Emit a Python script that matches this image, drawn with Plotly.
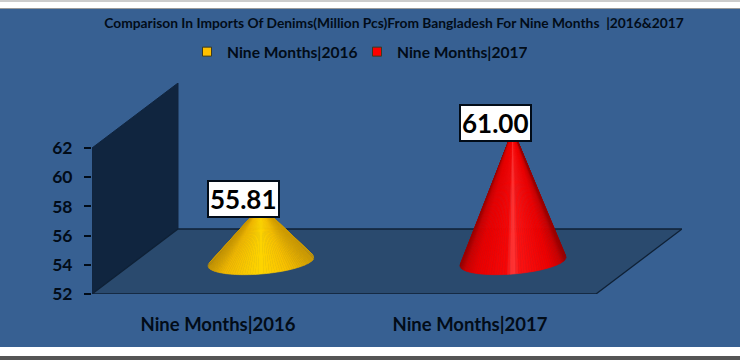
import numpy as np
import plotly.graph_objects as go

# ---- data ----
categories = ["Nine Months|2016", "Nine Months|2017"]
values = [55.81, 61.00]
series_names = ["Nine Months|2016", "Nine Months|2017"]
y_ticks = [52, 54, 56, 58, 60, 62]
title_text = "Comparison In Imports Of Denims(Million Pcs)From Bangladesh For Nine Months  |2016&2017"

# ---- style / layout ----
W, H = 740, 360
L, R, T, B = 92, 682, 83, 294          # plot box in pixels
PX_X = 252.0                           # pixels per category
PX_Y = 14.6                            # pixels per value unit
DEPTH_X = 86 / PX_X
DEPTH_Y = 65 / PX_Y
BASE = 52
R_X, R_SKEW, R_Y = 53 / PX_X, 4.25 / PX_Y, 12.5 / PX_Y
BG, FLOOR, WALL, INK = "#376092", "#2a4a6e", "#10253f", "#020c18"
FONT = "Lato"

YELLOW = [(-1, "#c89600"), (-.7, "#f2b800"), (0, "#ffd600"), (.5, "#f8c000"), (1, "#d09c00")]
RED = [(-1, "#980000"), (-.9, "#cc0000"), (-.7, "#e80000"), (-.12, "#f60808"), (0, "#ff3c3c"),
       (.12, "#fa1414"), (.7, "#ee0000"), (.9, "#cc0000"), (1, "#980000")]
STOPS = [YELLOW, RED]
LEGEND_COL = ["#ffc000", "#ff0000"]


def shade(stops, u):
    us = [s[0] for s in stops]
    rgb = [[int(s[1][i:i + 2], 16) for s in stops] for i in (1, 3, 5)]
    return "rgb(%d,%d,%d)" % tuple(np.interp(u, us, c) for c in rgb)


def px(x):
    return (x - L) / (R - L)


def py(y):
    return (B - y) / (B - T)


fig = go.Figure()

# wall and floor
fig.add_trace(go.Scatter(x=[0, DEPTH_X, DEPTH_X, 0, 0],
                         y=[BASE, BASE + DEPTH_Y, y_ticks[-1] + DEPTH_Y, y_ticks[-1], BASE],
                         fill="toself", fillcolor=WALL, mode="lines",
                         line=dict(color=WALL, width=1), hoverinfo="skip", showlegend=False))
n = len(categories)
fig.add_trace(go.Scatter(x=[0, n, n + DEPTH_X, DEPTH_X, 0],
                         y=[BASE, BASE, BASE + DEPTH_Y, BASE + DEPTH_Y, BASE],
                         fill="toself", fillcolor=FLOOR, mode="lines",
                         line=dict(color="#0f2136", width=1.3), hoverinfo="skip", showlegend=False))

# cones
annotations = []
for i, v in enumerate(values):
    cx = i + 0.5 + DEPTH_X / 2
    cy = BASE + DEPTH_Y / 2
    ax, ay = cx, v + DEPTH_Y / 2
    edges = np.linspace(0, np.pi, 61)
    ext_r = np.linspace(-0.4, 0, 5)
    ext_l = np.linspace(np.pi, np.pi + 0.4, 5)
    fans = list(zip(ext_r[:-1], ext_r[1:])) + list(zip(ext_l[:-1], ext_l[1:]))
    fans += list(zip(edges[:-1][::-1], edges[1:][::-1]))
    for t0, t1 in fans:
        ts = np.array([t0, t1])
        xs = cx + R_X * np.cos(ts)
        ys = cy + R_SKEW * np.cos(ts) - R_Y * np.sin(ts)
        col = shade(STOPS[i], float(np.cos((t0 + t1) / 2)))
        fig.add_trace(go.Scatter(x=[ax, xs[0], xs[1], ax], y=[ay, ys[0], ys[1], ay],
                                 fill="toself", fillcolor=col, mode="lines",
                                 line=dict(color=col, width=0.6),
                                 hoverinfo="skip", showlegend=False))
    annotations.append(dict(x=ax, y=ay, xref="x", yref="y", text=f"{v:.2f}",
                            showarrow=False, xanchor="center", yanchor="bottom",
                            xshift=-18, yshift=-12, bgcolor="white", bordercolor=INK,
                            borderwidth=2, borderpad=1,
                            font=dict(family=FONT, size=26, color="#000000", weight="bold")))

# legend entries
for name, col in zip(series_names, LEGEND_COL):
    fig.add_trace(go.Scatter(x=[None], y=[None], name=name, mode="markers",
                             marker=dict(symbol="square", size=9, color=col,
                                         line=dict(color="#3a3a20", width=1))))

shapes = [
    dict(type="rect", xref="paper", yref="paper", layer="below", line_width=0, fillcolor=BG,
         x0=px(0), x1=px(W), y0=py(347), y1=py(9)),
    dict(type="rect", xref="paper", yref="paper", layer="below", line_width=0, fillcolor="#9a9a9a",
         x0=px(0), x1=px(W), y0=py(9), y1=py(8)),
    dict(type="rect", xref="paper", yref="paper", layer="below", line_width=0, fillcolor="#cccccc",
         x0=px(0), x1=px(W), y0=py(2), y1=py(0)),
    dict(type="rect", xref="paper", yref="paper", layer="below", line_width=0, fillcolor="#555555",
         x0=px(0), x1=px(W), y0=py(360), y1=py(356)),
]

fig.update_layout(
    width=W, height=H, autosize=False,
    margin=dict(l=L, r=W - R, t=T, b=H - B, pad=0),
    paper_bgcolor="white", plot_bgcolor="rgba(0,0,0,0)",
    title=dict(text=title_text, x=394 / W, xanchor="center", y=1 - 23 / H, yanchor="middle",
               font=dict(family=FONT, size=13.8, color=INK, weight="bold")),
    showlegend=True,
    legend=dict(orientation="h", x=px(187), y=py(52), xanchor="left", yanchor="middle",
                bgcolor="rgba(0,0,0,0)", traceorder="normal",
                entrywidth=125, entrywidthmode="pixels",
                font=dict(family=FONT, size=15.6, color=INK, weight="bold")),
    xaxis=dict(range=[0, (R - L) / PX_X], tickmode="array",
               tickvals=[i + 0.5 for i in range(n)], ticktext=categories,
               showgrid=False, zeroline=False, showline=False, ticks="",
               ticklabelstandoff=17, fixedrange=True,
               tickfont=dict(family=FONT, size=18.5, color=INK, weight="bold")),
    yaxis=dict(range=[BASE, BASE + (B - T) / PX_Y], tickmode="array", tickvals=y_ticks,
               showgrid=False, zeroline=False, showline=False, ticks="outside", ticklen=7,
               tickwidth=2, tickcolor=INK, ticklabelstandoff=8, fixedrange=True,
               tickfont=dict(family=FONT, size=17.5, color=INK, weight="bold")),
    shapes=shapes, annotations=annotations,
)

fig.write_html("out.html", config=dict(displayModeBar=False),
               post_script="document.body.style.margin='0';document.body.style.overflow='hidden';")
